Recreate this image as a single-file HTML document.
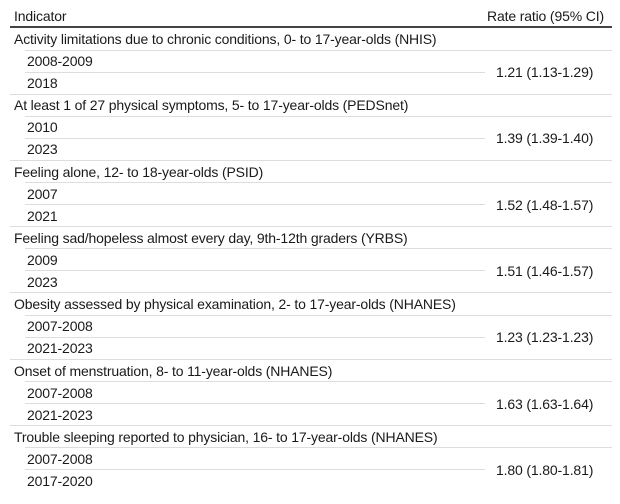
<!DOCTYPE html>
<html><head><meta charset="utf-8"><style>
body{margin:0;width:620px;height:504px;background:#fff;font-family:"Liberation Sans",sans-serif;color:#1a1a1a;font-size:14px;letter-spacing:-0.15px;position:relative;overflow:hidden}
.t{position:absolute;white-space:nowrap;line-height:22px}
.l{position:absolute;height:1px;background:#ddd}
</style></head><body>
<div class="t" style="left:14px;top:5px">Indicator</div>
<div class="t" style="left:487px;top:5px">Rate ratio (95% CI)</div>
<div class="l" style="left:10px;top:26px;width:602px;height:2px;background:#444"></div>
<div id="rows"></div>
<script>
const titles=["Activity limitations due to chronic conditions, 0- to 17-year-olds (NHIS)","At least 1 of 27 physical symptoms, 5- to 17-year-olds (PEDSnet)","Feeling alone, 12- to 18-year-olds (PSID)","Feeling sad/hopeless almost every day, 9th-12th graders (YRBS)","Obesity assessed by physical examination, 2- to 17-year-olds (NHANES)","Onset of menstruation, 8- to 11-year-olds (NHANES)","Trouble sleeping reported to physician, 16- to 17-year-olds (NHANES)"];
const years1=["2008-2009","2010","2007","2009","2007-2008","2007-2008","2007-2008"];
const years2=["2018","2023","2021","2023","2021-2023","2021-2023","2017-2020"];
const ratios=["1.21 (1.13-1.29)","1.39 (1.39-1.40)","1.52 (1.48-1.57)","1.51 (1.46-1.57)","1.23 (1.23-1.23)","1.63 (1.63-1.64)","1.80 (1.80-1.81)"];
const root=document.getElementById('rows');
function add(cls,name,style,text){const d=document.createElement('div');d.className=cls;


d.style.cssText=style;if(text)d.textContent=text;root.appendChild(d);}
titles.forEach((t,i)=>{
 const y=28+i*66.3;
 add('t','indicator-title',`left:14px;top:${y}px`,t);
 add('l','title-rule',`left:25px;top:${y+21.5}px;width:587px`);
 add('t','start-year',`left:27px;top:${y+22}px`,years1[i]);
 add('l','sub-rule',`left:25px;top:${y+43.5}px;width:460px`);
 add('t','end-year',`left:27px;top:${y+44}px`,years2[i]);
 add('t','rate-ratio',`left:496px;top:${y+33}px`,ratios[i]);
 if(i<titles.length-1)add('l','group-rule',`left:10px;top:${y+65.5}px;width:602px`);
});
</script>
</body></html>
